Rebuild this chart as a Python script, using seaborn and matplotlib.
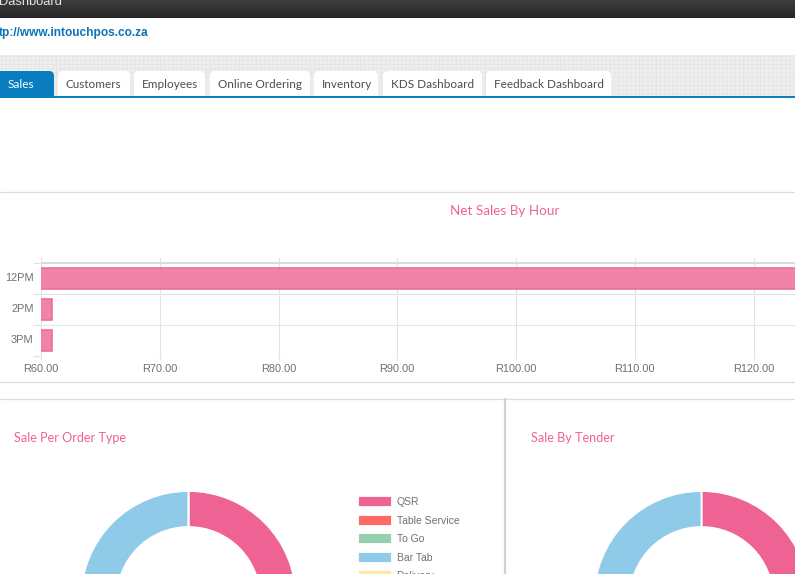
import matplotlib
matplotlib.use("Agg")
import matplotlib.pyplot as plt
from matplotlib.patches import Rectangle, FancyBboxPatch
from matplotlib.transforms import ScaledTranslation
import numpy as np
import pandas as pd
import seaborn as sns

# ---- data ----
hours = ["12PM", "2PM", "3PM"]
net_sales = [125.0, 60.95, 60.95]
x_ticks = [60, 70, 80, 90, 100, 110, 120]

order_types = ["QSR", "Table Service", "To Go", "Bar Tab", "Delivery"]
order_values = [50, 0, 0, 50, 0]
order_colors = ["#EE6393", "#FF6B64", "#96CEB0", "#90CAE9", "#FCE99F"]

tender_types = ["Cash", "Card"]
tender_values = [50, 50]
tender_colors = ["#EE6393", "#90CAE9"]

tab_labels = ["Sales", "Customers", "Employees", "Online Ordering",
              "Inventory", "KDS Dashboard", "Feedback Dashboard"]
tab_left = [-6, 58, 134, 210, 314, 383, 486]
tab_right = [54, 130, 205, 310, 378, 482, 611]

W, H = 795, 574
PINK = "#EE6393"
BLUE = "#0A7DBE"
sns.set_theme(style="white")
plt.rcParams["font.family"] = ["Liberation Sans", "DejaVu Sans"]
plt.rcParams["hatch.linewidth"] = 0.5
fig = plt.figure(figsize=(W / 100, H / 100), dpi=100, facecolor="white")

# ---- page chrome, in pixel coordinates ----
bg = fig.add_axes([0, 0, 1, 1], zorder=0)
bg.set_xlim(0, W); bg.set_ylim(H, 0); bg.axis("off")
bg.imshow(np.linspace(0.24, 0.15, 18)[:, None], cmap="gray", vmin=0, vmax=1,
          extent=(0, W, 18, 0), aspect="auto", zorder=1)
bg.set_xlim(0, W); bg.set_ylim(H, 0)
bg.text(-1, 5, "Dashboard", color="#e4e4e4", fontsize=9.3, va="baseline", zorder=3)
bg.text(-1, 36, "tp://www.intouchpos.co.za", color="#0A75B5", fontsize=8.6,
        fontweight="bold", va="baseline", zorder=3)
bg.add_patch(Rectangle((0, 55), W, 42, facecolor="#eeeeee", edgecolor="#e4e4e4",
                       hatch="++++", linewidth=0, zorder=1))
for i, (lab, l, r) in enumerate(zip(tab_labels, tab_left, tab_right)):
    active = i == 0
    bg.add_patch(FancyBboxPatch((l, 71), r - l, 32,
                                boxstyle="round,pad=0,rounding_size=5",
                                facecolor=BLUE if active else "white",
                                edgecolor="none", zorder=2))
    bg.text(8 if active else l + 8, 88.5, lab, family="Lato", fontsize=8.45,
            color="white" if active else "#4d4d4d", va="baseline", zorder=4)
bg.add_patch(Rectangle((0, 97.5), W, 40, facecolor="white", edgecolor="none", zorder=3))
bg.plot([0, W], [97, 97], color=BLUE, lw=1.4, zorder=4)
for y in (192, 382, 399):
    bg.plot([0, W], [y, y], color="#dddddd", lw=0.9, zorder=1)
bg.plot([505, 505], [399, H], color="#d0d0d0", lw=1.6, zorder=1)

bg.text(505, 215, "Net Sales By Hour", family="Lato", fontsize=9.75, color=PINK,
        ha="center", va="baseline", zorder=3)
bg.text(14, 442.5, "Sale Per Order Type", family="Lato", fontsize=9.1, color=PINK,
        va="baseline", zorder=3)
bg.text(531, 442.5, "Sale By Tender", family="Lato", fontsize=9.1, color=PINK,
        va="baseline", zorder=3)

# ---- bar chart ----
ax_l, ax_top, ax_bot, band = 41, 258, 355.5, 30.7
ax = fig.add_axes([ax_l / W, 1 - ax_bot / H, (W - ax_l) / W, (ax_bot - ax_top) / H], zorder=2)
ax.patch.set_alpha(0)
df = pd.DataFrame({"hour": hours, "sales": net_sales})
sns.barplot(data=df, x="sales", y="hour", orient="h", ax=ax, width=0.68,
            color="#F283A8", saturation=1, edgecolor="#EE6E9A", linewidth=1.2)
ax.set_xlim(60, 60 + (W - ax_l) / 11.875)
ax.set_ylim(2.5, -0.5 - (263 - ax_top) / band)
ax.set_xlabel(""); ax.set_ylabel("")
ax.set_xticks(x_ticks)
ax.set_xticklabels([f"R{v:.2f}" for v in x_ticks])
ax.set_yticks([-0.5, 0.5, 1.5, 2.5], minor=True)
ax.grid(True, axis="x", color="#e2e2e2", lw=0.8)
ax.grid(True, which="minor", axis="y", color="#e6e6e6", lw=0.8)
ax.set_axisbelow(True)
ax.axhline(-0.5, color="#d8d8d8", lw=1.3, zorder=1)
ax.tick_params(axis="x", length=3, width=0.8, color="#e2e2e2", labelsize=7.9,
               labelcolor="#707070", pad=3, bottom=True)
ax.tick_params(axis="y", which="major", length=0, labelsize=7.9, labelcolor="#707070", pad=5.3)
ax.tick_params(axis="y", which="minor", length=5.5, width=0.8, color="#e2e2e2", left=True)
shift = ScaledTranslation(0, 1.5 / 100, fig.dpi_scale_trans)
for t in ax.get_yticklabels():
    t.set_transform(t.get_transform() + shift)
sns.despine(ax=ax, left=True, bottom=True, top=True, right=True)

# ---- donuts ----
R, r_in, cy = 107.5, 71.5, 598.5
def donut(cx, values, colors):
    a = fig.add_axes([(cx - R) / W, 1 - (cy + R) / H, 2 * R / W, 2 * R / H], zorder=2)
    wedges, _ = a.pie(values, colors=colors, startangle=90, counterclock=False, radius=1,
                      wedgeprops=dict(width=1 - r_in / R, edgecolor="white", linewidth=1.3))
    a.set_xlim(-1, 1); a.set_ylim(-1, 1)
    return a, wedges

a1, w1 = donut(188.5, order_values, order_colors)
donut(701.5, tender_values, tender_colors)
a1.legend(w1, order_types, loc="upper left", bbox_to_anchor=(358 / W, 1 - 496 / H),
          bbox_transform=fig.transFigure, frameon=False, borderpad=0, borderaxespad=0,
          fontsize=7.5, handlelength=3.25, handleheight=1.25, handletextpad=0.45,
          labelspacing=0.72, labelcolor="#707070")

fig.savefig("out.png", dpi=100)
